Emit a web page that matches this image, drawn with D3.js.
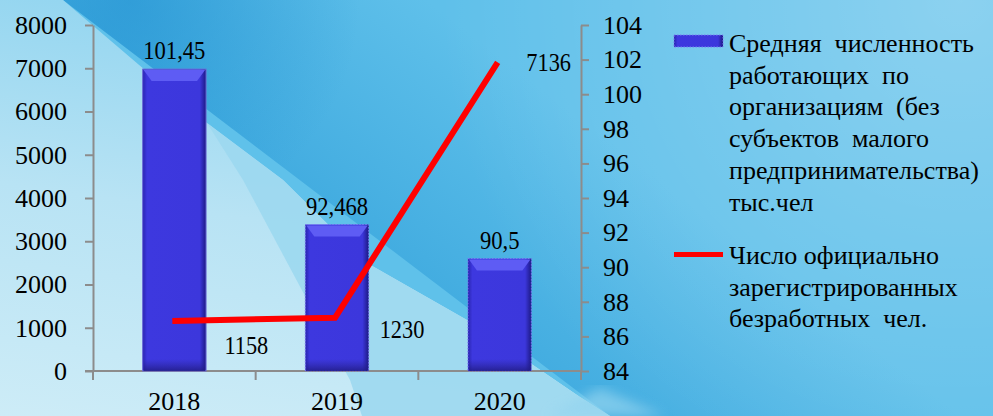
<!DOCTYPE html>
<html><head><meta charset="utf-8">
<script src="https://cdn.jsdelivr.net/npm/d3@7"></script>
<style>
html,body{margin:0;padding:0;overflow:hidden;background:#5fc1ea;}
svg{display:block;}
</style></head>
<body>
<svg id="chart" width="993" height="416"></svg>
<script>
// ---- data ----
const years = ["2018", "2019", "2020"];
const workers = [101.45, 92.468, 90.5];          // тыс. чел (right axis, bars)
const unemployed = [1158, 1230, 7136];           // чел. (left axis, line)
const leftTicks = [0,1000,2000,3000,4000,5000,6000,7000,8000];
const rightTicks = [84,86,88,90,92,94,96,98,100,102,104];
const legendBars = ["Средняя  численность","работающих  по","организациям  (без","субъектов  малого","предпринимательства)","тыс.чел"];
const legendLine = ["Число официально","зарегистрированных","безработных  чел."];

// ---- layout ----
const W = 993, H = 416;
const FONT = "'Liberation Serif'";
const svg = d3.select("#chart");
const defs = svg.append("defs");

// background
const gDark = defs.append("linearGradient").attr("id","gDark").attr("gradientUnits","userSpaceOnUse")
  .attr("x1",300).attr("y1",190).attr("x2",440).attr("y2",10);
gDark.append("stop").attr("offset",0).attr("stop-color","#42ace0");
gDark.append("stop").attr("offset",1).attr("stop-color","#5fc0ea");
const gTL = defs.append("radialGradient").attr("id","gTL").attr("gradientUnits","userSpaceOnUse")
  .attr("cx",130).attr("cy",0).attr("r",230);
gTL.append("stop").attr("offset",0).attr("stop-color","#1f8fd0").attr("stop-opacity",0.55);
gTL.append("stop").attr("offset",1).attr("stop-color","#1f8fd0").attr("stop-opacity",0);
const gLight = defs.append("linearGradient").attr("id","gLight").attr("gradientUnits","userSpaceOnUse")
  .attr("x1",60).attr("y1",0).attr("x2",0).attr("y2",416);
gLight.append("stop").attr("offset",0).attr("stop-color","#95d6f0");
gLight.append("stop").attr("offset",0.45).attr("stop-color","#b8e3f4");
gLight.append("stop").attr("offset",1).attr("stop-color","#cdecf7");
const gTR = defs.append("radialGradient").attr("id","gTR").attr("gradientUnits","userSpaceOnUse")
  .attr("cx",960).attr("cy",0).attr("r",520);
gTR.append("stop").attr("offset",0).attr("stop-color","#ffffff").attr("stop-opacity",0.28);
gTR.append("stop").attr("offset",1).attr("stop-color","#ffffff").attr("stop-opacity",0);
defs.append("filter").attr("id","blur").append("feGaussianBlur").attr("stdDeviation",6);

const bg = svg.append("g");
bg.append("rect").attr("width",W).attr("height",H).attr("fill","#5fc1ea");
bg.append("polygon").attr("points","63,0 993,0 993,416 610,416").attr("fill","url(#gDark)");
bg.append("polygon").attr("points","63,0 993,0 993,416 610,416").attr("fill","url(#gTL)");
bg.append("rect").attr("width",W).attr("height",H).attr("fill","url(#gTR)");
bg.append("polygon").attr("points","0,0 63,0 207,123 283,180 367,263 467,320 580,397 610,416 0,416").attr("fill","url(#gLight)");
bg.append("polygon").attr("points","207,123 283,180 367,263 467,320 580,397 610,416 362,416 350,380 243,180")
  .attr("fill","#9cd8f0").attr("opacity",0.9);
bg.append("polygon").attr("points","548,416 600,388 665,416").attr("fill","#93d4ef").attr("opacity",0.7).attr("filter","url(#blur)");

// scales
const x = d3.scaleBand().domain(years).range([93,581]).padding(0);
const yL = d3.scaleLinear().domain([0,8000]).range([371,25]);
const yR = d3.scaleLinear().domain([84,104]).range([371,25]);
const barW = x.bandwidth()*0.39;
const cx = d => x(d) + x.bandwidth()/2;

const axisColor = "#8c8c8c";
function styleText(sel, size){
  sel.style("font-family",FONT).style("font-size",size+"px").style("fill","#000");
}
function styleTicks(g){
  g.attr("font-family", null).attr("font-size", null);
  styleText(g.selectAll(".tick text"), 26);
}

// left axis
const ax = svg.append("g").attr("transform","translate(93,0)")
  .call(d3.axisLeft(yL).tickValues(leftTicks).tickSize(8).tickSizeOuter(0).tickPadding(18).tickFormat(d3.format("d")));
ax.select(".domain").attr("stroke",axisColor).attr("stroke-width",2);
ax.selectAll(".tick line").attr("stroke",axisColor).attr("stroke-width",2);
styleTicks(ax);

// right axis
const ar = svg.append("g").attr("transform","translate(581,0)")
  .call(d3.axisRight(yR).tickValues(rightTicks).tickSize(8).tickSizeOuter(0).tickPadding(14));
ar.select(".domain").attr("stroke",axisColor).attr("stroke-width",2);
ar.selectAll(".tick line").attr("stroke",axisColor).attr("stroke-width",2);
styleTicks(ar);

// bottom axis
const ab = svg.append("g").attr("transform","translate(0,371)")
  .call(d3.axisBottom(x).tickSize(0).tickPadding(21));
ab.select(".domain").remove();
styleTicks(ab);
ab.append("line").attr("x1",85).attr("x2",581).attr("y1",0).attr("y2",0).attr("stroke",axisColor).attr("stroke-width",2);
const bounds = years.map(d => x(d)).concat([x.range()[1]]);
ab.selectAll("line.bt").data(bounds).enter().append("line").attr("class","bt")
  .attr("x1",d=>d).attr("x2",d=>d).attr("y1",0).attr("y2",9).attr("stroke",axisColor).attr("stroke-width",2);

// bar gradients
const gBar = defs.append("linearGradient").attr("id","gBar").attr("x1",0).attr("x2",1).attr("y1",0).attr("y2",0);
[[0,"#2a25b0"],[0.07,"#3d38df"],[0.9,"#3c37dc"],[1,"#1d1985"]].forEach(s=>gBar.append("stop").attr("offset",s[0]).attr("stop-color",s[1]));
const gBot = defs.append("linearGradient").attr("id","gBot").attr("x1",0).attr("x2",0).attr("y1",0).attr("y2",1);
gBot.append("stop").attr("offset",0).attr("stop-color","#2a2598").attr("stop-opacity",0);
gBot.append("stop").attr("offset",1).attr("stop-color","#1f1a80").attr("stop-opacity",0.8);

// bars
const bars = svg.append("g");
years.forEach((yr,i) => {
  const x0 = cx(yr) - barW/2, y0 = yR(workers[i]), h = yR(84) - y0;
  bars.append("rect").attr("x",x0).attr("y",y0).attr("width",barW).attr("height",h)
    .attr("fill","url(#gBar)").attr("stroke", i===0 ? "#6b6bd8" : "#7a7af2")
    .attr("stroke-width",1).attr("stroke-dasharray", i===0 ? null : "1.5,1.5");
  bars.append("polygon").attr("points",
    [[x0+1,y0+1],[x0+barW-1,y0+1],[x0+barW-9,y0+12],[x0+9,y0+12]].map(p=>p.join(",")).join(" "))
    .attr("fill","#5e5cf4");
  bars.append("rect").attr("x",x0+1).attr("y",y0+h-12).attr("width",barW-2).attr("height",12).attr("fill","url(#gBot)");
  bars.append("text").attr("transform",`translate(${cx(yr)},${y0-10}) scale(0.87,1)`)
    .attr("text-anchor","middle").call(styleText,26).text(String(workers[i]).replace(".",","));
});

// line
const line = d3.line().x((d,i)=>cx(years[i])-2).y(d=>yL(d));
svg.append("path").datum(unemployed).attr("d",line).attr("fill","none")
  .attr("stroke","#ff0000").attr("stroke-width",6).attr("stroke-linejoin","miter");
const lblOff = [[72,33],[65,20],[49,9]];
svg.append("g").selectAll("text").data(unemployed).enter().append("text")
  .attr("transform",(d,i)=>`translate(${cx(years[i])+lblOff[i][0]},${yL(d)+lblOff[i][1]}) scale(0.86,1)`)
  .attr("text-anchor","middle").call(styleText,26).text(d=>d);

// legend
const lg = svg.append("g");
lg.append("rect").attr("x",674).attr("y",35).attr("width",49).attr("height",12).attr("fill","url(#gBar)")
  .attr("stroke","#7a7af2").attr("stroke-dasharray","1.5,1.5");
lg.append("line").attr("x1",674).attr("x2",723).attr("y1",254.5).attr("y2",254.5).attr("stroke","#ff0000").attr("stroke-width",5);
legendBars.forEach((t,i)=>lg.append("text").attr("x",729).attr("y",52+i*31.7).call(styleText,26).style("white-space","pre").text(t));
legendLine.forEach((t,i)=>lg.append("text").attr("x",729).attr("y",264+i*31.7).call(styleText,26).style("white-space","pre").text(t));
</script>
</body></html>
